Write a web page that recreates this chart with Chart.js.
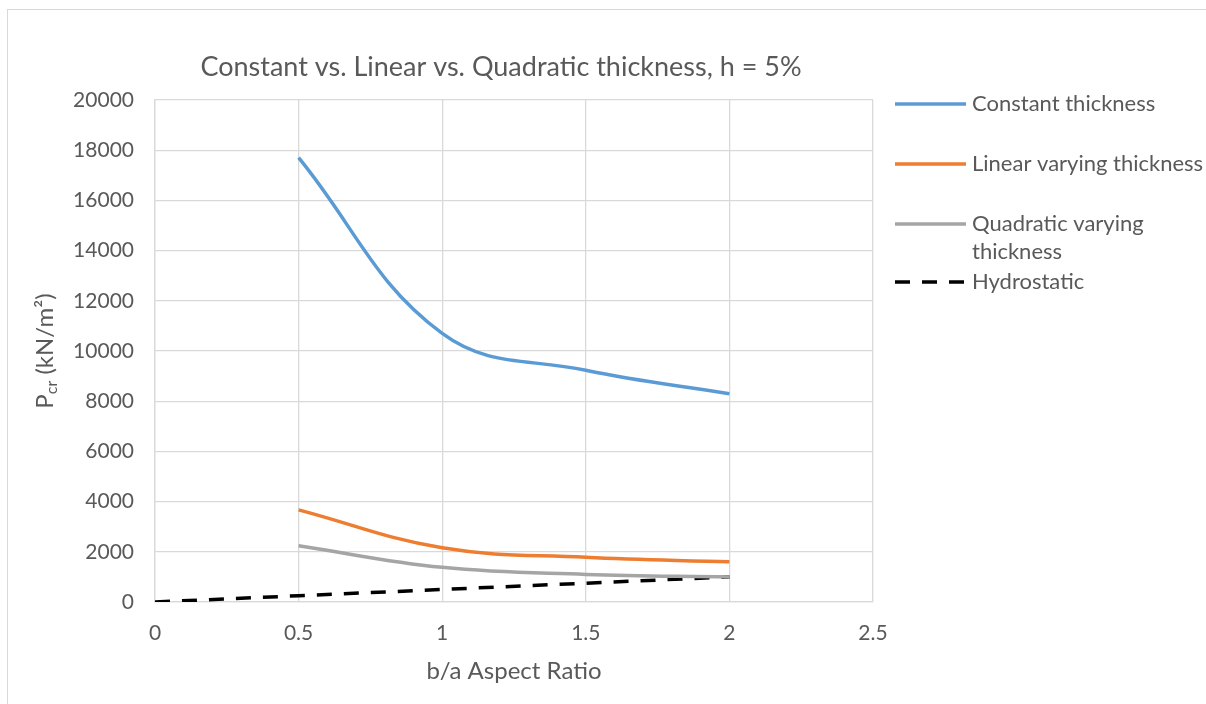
<!DOCTYPE html>
<html>
<head>
<meta charset="utf-8">
<title>Pcr vs aspect ratio</title>
<script src="https://cdn.jsdelivr.net/npm/chart.js@4.4.1/dist/chart.umd.min.js"></script>
<style>
  html, body { margin: 0; padding: 0; background: #fff; }
  #wrap { position: relative; width: 1206px; height: 704px; }
</style>
</head>
<body>
<div id="wrap"><canvas id="myChart" width="1206" height="704"></canvas></div>
<script>
// b/a aspect ratios and Pcr values (kN/m2)
const aspectRatio = [0.5, 1, 1.5, 2]
const constantThickness = [17700, 10700, 9230, 8300]
const linearThickness = [3670, 2160, 1780, 1600]
const quadraticThickness = [2240, 1380, 1100, 1000]

const hydroRatio = [0, 0.5, 1, 1.5, 2]
const hydrostatic = [0, 250, 500, 750, 1000]

const xTicks = [0, 0.5, 1, 1.5, 2, 2.5]
const yTicks = [0, 2000, 4000, 6000, 8000, 10000, 12000, 14000, 16000, 18000, 20000]

const seriesNames = ['Constant thickness', 'Linear varying thickness', 'Quadratic varying thickness', 'Hydrostatic']
const chartTitle = 'Constant vs. Linear vs. Quadratic thickness, h = 5%'
const xTitle = 'b/a Aspect Ratio'

const textColor = '#595959'
const gridColor = '#d9d9d9'
const fontName = 'Lato'

function points(xs, ys) {
  return xs.map((x, i) => ({ x: x, y: ys[i] }))
}

// frame, title, axis titles and the legend are drawn by hand
const decorations = {
  id: 'decorations',
  beforeDraw(chart) {
    const ctx = chart.ctx
    ctx.save()
    ctx.strokeStyle = gridColor
    ctx.lineWidth = 1
    ctx.strokeRect(7.5, 9.5, 1400, 900)
    ctx.restore()
  },
  afterDraw(chart) {
    const ctx = chart.ctx
    ctx.save()
    ctx.fillStyle = textColor

    // title
    ctx.font = '27px ' + fontName
    ctx.textAlign = 'center'
    ctx.textBaseline = 'middle'
    ctx.fillText(chartTitle, 501, 67)

    // x axis title
    ctx.font = '24px ' + fontName
    ctx.fillText(xTitle, 514, 671)

    // y axis title with subscript
    ctx.save()
    ctx.translate(45, 351)
    ctx.rotate(-Math.PI / 2)
    ctx.textAlign = 'left'
    ctx.textBaseline = 'middle'
    const big = '24px ' + fontName
    const small = '16px ' + fontName
    const parts = [['P', big, 0], ['cr', small, 7], [' (kN/m\u00B2)', big, 0]]
    let total = 0
    parts.forEach(p => { ctx.font = p[1]; total += ctx.measureText(p[0]).width })
    let x = -total / 2
    parts.forEach(p => {
      ctx.font = p[1]
      ctx.fillText(p[0], x, p[2])
      x += ctx.measureText(p[0]).width
    })
    ctx.restore()

    // legend
    const rows = [[104], [164], [224, 252], [282]]
    const lines = [['Constant thickness'], ['Linear varying thickness'], ['Quadratic varying', 'thickness'], ['Hydrostatic']]
    ctx.font = '22px ' + fontName
    ctx.textAlign = 'left'
    chart.data.datasets.forEach((ds, i) => {
      ctx.save()
      ctx.strokeStyle = ds.borderColor
      ctx.lineWidth = ds.borderWidth
      ctx.setLineDash(ds.borderDash || [])
      ctx.beginPath()
      ctx.moveTo(895, rows[i][0])
      ctx.lineTo(966, rows[i][0])
      ctx.stroke()
      ctx.restore()
      lines[i].forEach((t, j) => ctx.fillText(t, 972, rows[i][j]))
    })
    ctx.restore()
  }
}

const ctx = document.getElementById('myChart')

new Chart(ctx, {
  type: 'line',
  data: {
    datasets: [
      {
        label: seriesNames[0],
        data: points(aspectRatio, constantThickness),
        borderColor: '#5b9bd5',
        borderWidth: 3.5,
        tension: 0.4,
        pointRadius: 0
      },
      {
        label: seriesNames[1],
        data: points(aspectRatio, linearThickness),
        borderColor: '#ed7d31',
        borderWidth: 3.5,
        tension: 0.4,
        pointRadius: 0
      },
      {
        label: seriesNames[2],
        data: points(aspectRatio, quadraticThickness),
        borderColor: '#a5a5a5',
        borderWidth: 3.5,
        tension: 0.4,
        pointRadius: 0
      },
      {
        label: seriesNames[3],
        data: points(hydroRatio, hydrostatic),
        borderColor: '#000000',
        borderWidth: 3.5,
        borderDash: [15, 12],
        tension: 0,
        pointRadius: 0
      }
    ]
  },
  options: {
    responsive: false,
    animation: false,
    layout: { padding: { left: 0, top: 100, right: 333, bottom: 0 } },
    plugins: {
      legend: { display: false },
      title: { display: false },
      tooltip: { enabled: false }
    },
    scales: {
      x: {
        type: 'linear',
        min: xTicks[0],
        max: xTicks[xTicks.length - 1],
        afterFit(scale) { scale.height = 102 },
        afterBuildTicks(scale) { scale.ticks = xTicks.map(v => ({ value: v })) },
        grid: { color: gridColor, lineWidth: 1.3, drawTicks: false },
        border: { color: gridColor, width: 1.3 },
        ticks: {
          padding: 19,
          color: textColor,
          font: { family: fontName, size: 21 },
          callback: v => String(v)
        }
      },
      y: {
        min: yTicks[0],
        max: yTicks[yTicks.length - 1],
        afterFit(scale) { scale.width = 155 },
        afterBuildTicks(scale) { scale.ticks = yTicks.map(v => ({ value: v })) },
        grid: { color: gridColor, lineWidth: 1.3, drawTicks: false },
        border: { color: gridColor, width: 1.3 },
        ticks: {
          padding: 21,
          color: textColor,
          font: { family: fontName, size: 21 },
          callback: v => String(v)
        }
      }
    }
  },
  plugins: [decorations]
})
</script>
</body>
</html>
